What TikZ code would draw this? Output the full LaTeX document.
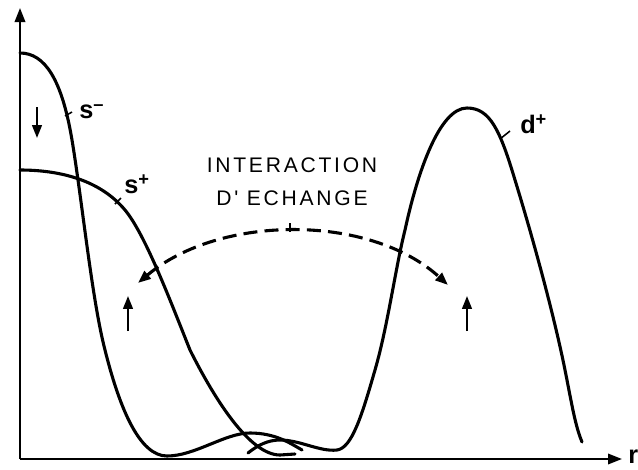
\documentclass[tikz,border=0pt]{standalone}
\usepackage{fontspec}
\setmainfont{Liberation Sans}
\newfontfamily\spacedfont[LetterSpace=13]{Liberation Sans}
\usetikzlibrary{arrows.meta}

\newcommand{\supsign}[1]{\raisebox{0.55ex}{\fontsize{13}{13}\selectfont\bfseries #1}}

\tikzset{
  curve/.style={line width=2.2pt,line cap=round},
  tickline/.style={line width=1.1pt},
  curvelabel/.style={font=\fontsize{18}{18}\selectfont\bfseries,inner sep=0pt,anchor=base west},
  spinarrow/.style={line width=1.4pt,-{Triangle[length=3.2mm,width=2.4mm]}}
}

\begin{document}
\begin{tikzpicture}[x=0.025cm,y=-0.025cm,>=Triangle]
\useasboundingbox (0,0) rectangle (638,469);
% axes
\coordinate (O) at (20,459);
\coordinate (ytop) at (20,8);
\coordinate (xend) at (622,459);
\draw[line width=1.6pt,-{Triangle[length=3.5mm,width=2.6mm]}] (O)--(ytop);
\draw[line width=1.6pt,-{Triangle[length=3.5mm,width=2.6mm]}] (O)--(xend);
\node[font=\fontsize{18}{18}\selectfont\bfseries,anchor=west,inner sep=0pt] (r) at (628,457) {r};
% s- curve
\draw[curve] (20,53) .. controls (45,53) and (62,80) .. (72,140)
  .. controls (82,200) and (92,300) .. (105,350)
  .. controls (120,410) and (140,456) .. (167,456)
  .. controls (195,456) and (225,433) .. (250,433)
  .. controls (275,433) and (290,443) .. (302,450);
% s+ curve
\draw[curve] (20,170) .. controls (60,170) and (100,180) .. (125,210)
  .. controls (145,234) and (170,300) .. (190,350)
  .. controls (215,400) and (250,455) .. (280,455)
  -- (295,454);
% d+ curve
\draw[curve] (248,453) .. controls (258,445) and (268,440) .. (280,440)
  .. controls (300,440) and (320,452) .. (337,450)
  .. controls (352,448) and (362,415) .. (375,370)
  .. controls (388,325) and (395,270) .. (405,230)
  .. controls (418,170) and (440,108) .. (467,108)
  .. controls (490,108) and (500,130) .. (515,180)
  .. controls (535,245) and (555,320) .. (565,370)
  .. controls (572,405) and (575,425) .. (582,442);
% labels
\node[curvelabel] (lsm) at (79,118) {s\supsign{--}};
\draw[tickline] (65,116)--(72,112);
\node[curvelabel] (lsp) at (124,193) {s\supsign{+}};
\draw[tickline] (115,204)--(121,198);
\node[curvelabel] (ldp) at (520,133) {d\supsign{+}};
\draw[tickline] (500,139)--(510,131);
% exchange interaction
\node[font=\fontsize{15}{15}\selectfont\spacedfont,inner sep=0pt] (inter) at (292,165) {INTERACTION};
\node[font=\fontsize{15}{15}\selectfont\spacedfont,inner sep=0pt] (echange) at (292,198) {D' ECHANGE};
\coordinate (aL) at (138,283);
\coordinate (aR) at (448,285);
\coordinate (atop) at (290,232);
\draw[line width=2.2pt,dash pattern=on 0.35cm off 0.18cm,{Triangle[length=3.2mm,width=2.4mm]}-{Triangle[length=3.2mm,width=2.4mm]}] (aL) .. controls (220,214) and (370,214) .. (aR);
\draw[tickline] (atop)--(290,223);
% spins
\coordinate (dnA) at (37,107);
\coordinate (dnB) at (37,138);
\draw[spinarrow] (dnA)--(dnB);
\coordinate (upA) at (128,331);
\coordinate (upB) at (128,296);
\draw[spinarrow] (upA)--(upB);
\coordinate (upC) at (467,331);
\coordinate (upD) at (467,296);
\draw[spinarrow] (upC)--(upD);
\end{tikzpicture}
\end{document}
